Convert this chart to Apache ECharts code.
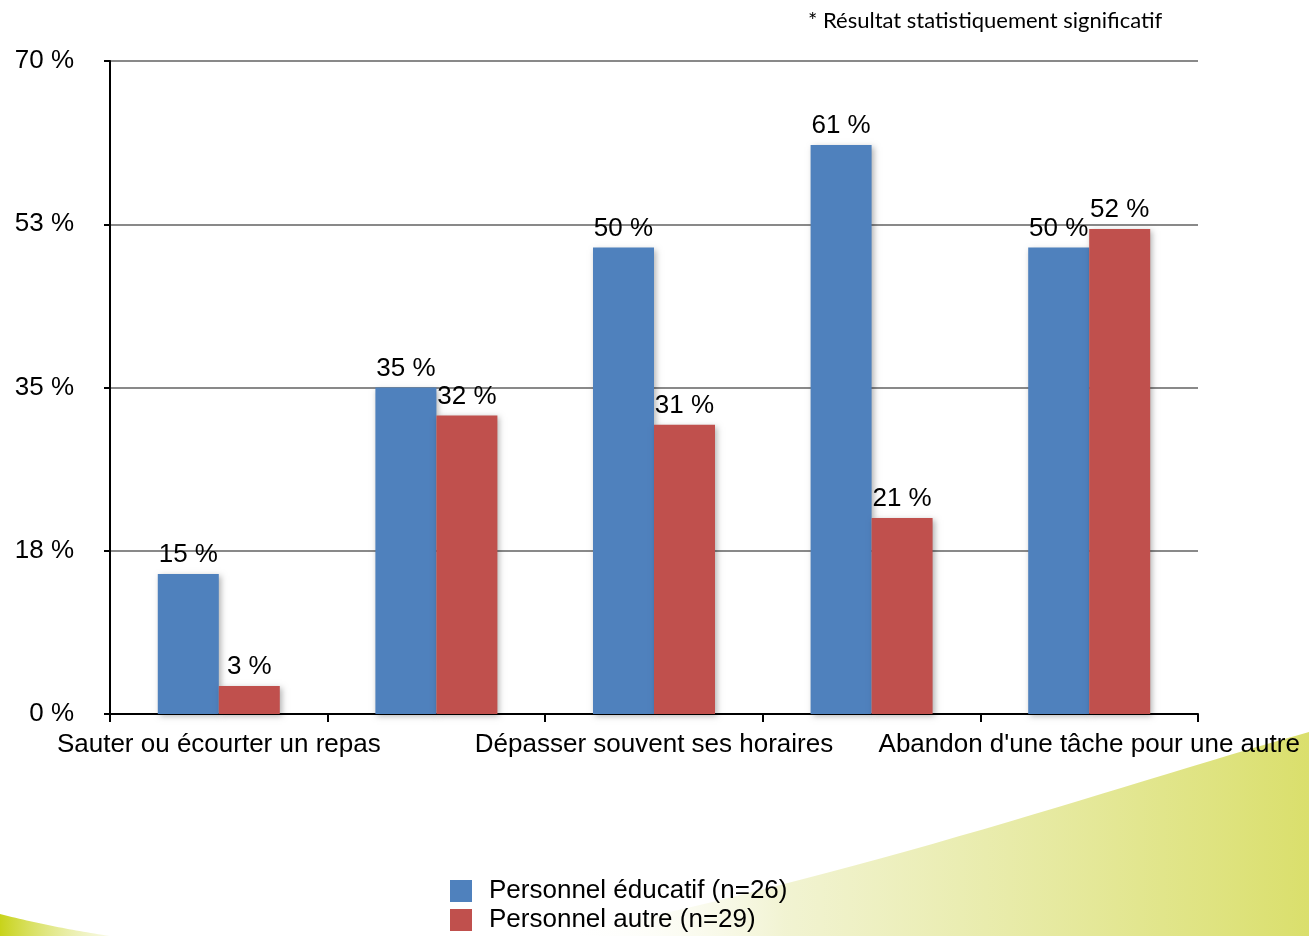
<!DOCTYPE html>
<html>
<head>
<meta charset="utf-8">
<title>Personnel éducatif / autre</title>
<script src="https://cdn.jsdelivr.net/npm/echarts@6/dist/echarts.min.js"></script>
<style>
	html, body { margin: 0; padding: 0; background: #fff; }
	#chart { width: 1309px; height: 936px; }
</style>
</head>
<body>
<div id="chart"></div>
<script>
	// catégories (les libellés 2 et 4 ne sont pas affichés sur l'original)
	var categories = ['Sauter ou écourter un repas', ' ', 'Dépasser souvent ses horaires', '  ', 'Abandon d\'une tâche pour une autre']
	var educatif = [15, 35, 50, 61, 50]
	var autre = [3, 32, 31, 21, 52]
	var seriesNames = ['Personnel éducatif (n=26)', 'Personnel autre (n=29)']
	var yTicks = [0, 17.5, 35, 52.5, 70]
	var note = '* Résultat statistiquement significatif'

	var font = 'Liberation Sans, Arial, sans-serif'
	var chart = echarts.init(document.getElementById('chart'))

	var barShadow = {
		shadowBlur: 6,
		shadowColor: 'rgba(0,0,0,0.3)',
		shadowOffsetX: 2,
		shadowOffsetY: 2
	}
	var barLabel = {
		show: true,
		position: 'top',
		distance: 6,
		color: '#000',
		fontSize: 26,
		fontFamily: font,
		formatter: '{c} %'
	}

	function gradient(stops) {
		return { type: 'linear', x: 0, y: 0, x2: 1, y2: 0, colorStops: stops }
	}

	// contour du bandeau décoratif (courbe de Bézier cubique échantillonnée)
	function swoosh(p0, p1, p2, p3, closeX, closeY) {
		var pts = []
		for (var i = 0; i <= 30; i++) {
			var t = i / 30, u = 1 - t
			pts.push([
				u * u * u * p0[0] + 3 * u * u * t * p1[0] + 3 * u * t * t * p2[0] + t * t * t * p3[0],
				u * u * u * p0[1] + 3 * u * u * t * p1[1] + 3 * u * t * t * p2[1] + t * t * t * p3[1]
			])
		}
		pts.push([closeX, closeY])
		return pts
	}

	var option = {
		animation: false,
		backgroundColor: '#fff',
		title: {
			text: note,
			left: 803,
			top: 5,
			textStyle: {
				fontFamily: 'Lato, Open Sans, sans-serif',
				fontWeight: 'normal',
				fontSize: 22,
				color: '#000'
			}
		},
		graphic: [{
			type: 'polygon',
			z: -10,
			silent: true,
			shape: { points: swoosh([1309, 732], [1120, 785], [880, 870], [560, 936], 1309, 936) },
			style: {
				fill: gradient([
					{ offset: 0, color: 'rgba(255,255,255,0)' },
					{ offset: 0.3, color: 'rgba(240,242,205,0.9)' },
					{ offset: 1, color: '#dadf6c' }
				])
			}
		}, {
			type: 'polygon',
			z: -10,
			silent: true,
			shape: { points: swoosh([0, 914], [40, 924], [70, 930], [110, 936], 0, 936) },
			style: {
				fill: gradient([
					{ offset: 0, color: '#c8d31a' },
					{ offset: 1, color: 'rgba(220,228,120,0.2)' }
				])
			}
		}],
		legend: {
			orient: 'vertical',
			left: 450,
			top: 878,
			padding: 0,
			itemWidth: 22,
			itemHeight: 22,
			itemGap: 3,
			icon: 'rect',
			data: seriesNames,
			textStyle: { fontSize: 26, lineHeight: 26, fontFamily: font, color: '#000', padding: [0, 0, 0, 12] }
		},
		grid: {
			left: 110,
			right: 111,
			top: 61,
			bottom: 222,
			containLabel: false
		},
		xAxis: {
			type: 'category',
			data: categories,
			axisLine: { lineStyle: { color: '#000', width: 2 } },
			axisTick: { show: true, interval: 0, length: 8, lineStyle: { color: '#000', width: 2 } },
			axisLabel: {
				interval: 1,
				margin: 18,
				color: '#000',
				fontSize: 26,
				fontFamily: font
			}
		},
		yAxis: {
			type: 'value',
			min: 0,
			max: 70,
			interval: 17.5,
			axisLine: { show: true, lineStyle: { color: '#000', width: 2 } },
			axisTick: { show: true, length: 6, lineStyle: { color: '#000', width: 2 } },
			axisLabel: {
				margin: 36,
				color: '#000',
				fontSize: 26,
				fontFamily: font,
				formatter: function (v) {
					return yTicks.indexOf(v) > -1 ? Math.round(v) + ' %' : ''
				}
			},
			splitLine: { lineStyle: { color: '#898989', width: 2 } }
		},
		series: [{
			name: seriesNames[0],
			type: 'bar',
			data: educatif,
			barWidth: 61,
			barGap: 0,
			itemStyle: Object.assign({ color: '#4f81bd' }, barShadow),
			label: barLabel
		}, {
			name: seriesNames[1],
			type: 'bar',
			data: autre,
			barWidth: 61,
			barGap: 0,
			itemStyle: Object.assign({ color: '#c0504d' }, barShadow),
			label: barLabel
		}]
	}
	chart.setOption(option)
</script>
</body>
</html>
